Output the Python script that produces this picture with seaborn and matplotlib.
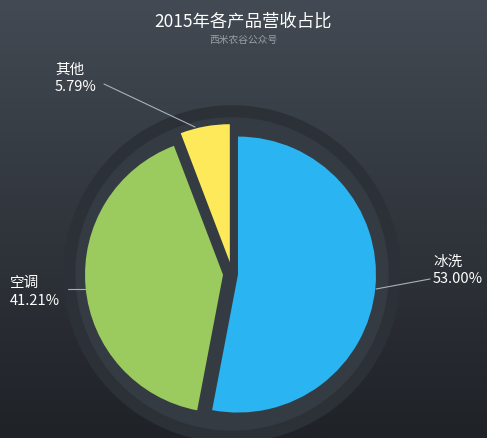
import numpy as np
import matplotlib
matplotlib.use("Agg")
import matplotlib.pyplot as plt
import seaborn as sns
from matplotlib.patches import Circle

sns.set_theme(style="white")
plt.rcParams['font.family'] = ['Noto Sans CJK SC', 'DejaVu Sans']

categories = ["冰洗", "空调", "其他"]
shares = [53.00, 41.21, 5.79]
colors = ["#2ab4f2", "#9bca5f", "#fde95a"]

W, H = 487, 439
fig = plt.figure(figsize=(W/100, H/100), dpi=100)
bg = fig.add_axes([0, 0, 1, 1])
grad = np.linspace(0, 1, 256).reshape(-1, 1)
cmap = matplotlib.colors.LinearSegmentedColormap.from_list("bg", ["#434a53", "#1f2227"])
bg.imshow(grad, aspect="auto", cmap=cmap, extent=[0, W, 0, H])
bg.set_axis_off()

ax = fig.add_axes([0, 0, 1, 1])
cx, cy = 232, H - 275
ax.add_patch(Circle((cx, cy), 168, color="#2c3137", zorder=0))
ax.add_patch(Circle((cx, cy), 156, color="#353b42", zorder=0))
ax.pie(shares, colors=colors, startangle=90, counterclock=False,
       center=(cx, cy), radius=138, explode=[6, 9, 12],
       wedgeprops=dict(linewidth=0), frame=True)
ax.set_xlim(0, W); ax.set_ylim(0, H); ax.set_axis_off()

tc = "white"
ax.text(W/2, H-22, "2015年各产品营收占比", color=tc, fontsize=12.5, ha="center", va="center")
ax.text(W/2, H-40, "西米农谷公众号", color="#9aa0a8", fontsize=7, ha="center", va="center")

ax.plot([376, 430], [H-290, H-280], color="#aab0b8", lw=0.8)
ax.text(433, H-270, "冰洗\n53.00%", color=tc, fontsize=10.5, ha="left", va="center", linespacing=1.3)
ax.plot([88, 68], [H-290, H-290], color="#aab0b8", lw=0.8)
ax.text(10, H-292, "空调\n41.21%", color=tc, fontsize=10.5, ha="left", va="center", linespacing=1.3)
ax.plot([104, 195], [H-85, H-128], color="#aab0b8", lw=0.8)
ax.text(55, H-78, "其他\n5.79%", color=tc, fontsize=10.5, ha="left", va="center", linespacing=1.3)

fig.savefig("out.png", dpi=100)
